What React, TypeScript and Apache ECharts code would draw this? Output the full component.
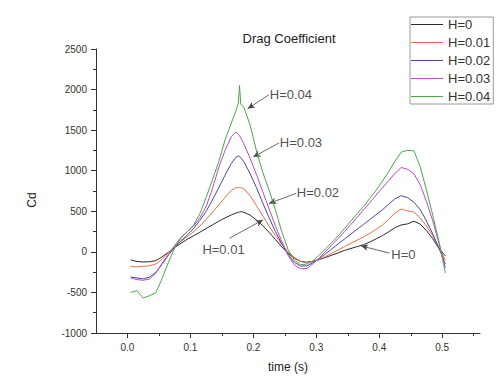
import React, { useEffect, useRef } from "react";
import * as echarts from "echarts";

const time = [0.005, 0.015, 0.025, 0.035, 0.045, 0.055, 0.065, 0.075, 0.085, 0.095, 0.105, 0.115, 0.125, 0.135, 0.145, 0.155, 0.165, 0.172, 0.176, 0.178, 0.18, 0.185, 0.195, 0.205, 0.215, 0.225, 0.235, 0.245, 0.255, 0.265, 0.275, 0.285, 0.295, 0.305, 0.315, 0.325, 0.335, 0.345, 0.355, 0.365, 0.375, 0.385, 0.395, 0.405, 0.415, 0.425, 0.435, 0.445, 0.455, 0.465, 0.475, 0.485, 0.495, 0.505];

const h0 = [-100, -118, -125, -122, -108, -62, -5, 55, 105, 155, 198, 242, 288, 332, 378, 418, 455, 478, 488, 492, 496, 488, 452, 392, 322, 240, 152, 62, -18, -78, -118, -128, -115, -95, -68, -40, -12, 18, 42, 65, 88, 122, 160, 200, 248, 298, 332, 345, 378, 342, 262, 160, 40, -50];
const h001 = [-180, -186, -178, -172, -150, -92, -12, 68, 128, 188, 248, 318, 400, 488, 578, 672, 760, 792, 788, 796, 790, 778, 690, 568, 440, 318, 200, 92, 2, -68, -118, -135, -122, -92, -55, -15, 25, 65, 105, 145, 185, 228, 278, 330, 400, 478, 528, 505, 490, 420, 318, 198, 50, -100];
const h002 = [-310, -322, -332, -312, -252, -152, -42, 58, 138, 208, 288, 388, 500, 640, 790, 945, 1090, 1165, 1182, 1178, 1160, 1110, 960, 790, 600, 420, 250, 100, -30, -128, -175, -172, -132, -82, -22, 40, 100, 160, 220, 280, 338, 398, 458, 518, 588, 655, 692, 668, 612, 520, 380, 220, 40, -150];
const h003 = [-322, -342, -350, -335, -262, -142, -32, 78, 178, 248, 318, 420, 560, 780, 1040, 1250, 1420, 1478, 1452, 1430, 1405, 1330, 1150, 950, 740, 530, 320, 130, -40, -160, -210, -205, -145, -72, 8, 88, 168, 250, 338, 428, 518, 608, 700, 790, 878, 968, 1040, 1018, 962, 830, 620, 380, 100, -200];
const h004 = [-500, -478, -568, -540, -505, -330, -130, 50, 170, 250, 330, 470, 670, 890, 1110, 1380, 1590, 1730, 1830, 2050, 1820, 1780, 1560, 1240, 980, 760, 520, 250, 30, -100, -158, -150, -108, -40, 40, 120, 200, 290, 380, 470, 560, 660, 760, 870, 990, 1120, 1230, 1252, 1245, 1050, 760, 450, 120, -260];

const seriesNames = ["H=0", "H=0.01", "H=0.02", "H=0.03", "H=0.04"];
const seriesValues = [h0, h001, h002, h003, h004];
const seriesColors = ["#2a2a2a", "#f06a45", "#4848a8", "#b84ac8", "#4aa84a"];

const xMajorTicks = [0, 0.1, 0.2, 0.3, 0.4, 0.5];
const xMinorTicks = [0.05, 0.15, 0.25, 0.35, 0.45, 0.55];

const annoText = ["H=0.04", "H=0.03", "H=0.02", "H=0.01", "H=0"];
const annoTextAt = [[0.226, 1941], [0.242, 1343], [0.269, 728], [0.119, 25], [0.419, -37]];
const annoFrom = [[0.225, 1937], [0.241, 1343], [0.268, 721], [0.162, 168], [0.416, -16]];
const annoTo = [[0.191, 1765], [0.2, 1171], [0.225, 597], [0.215, 393], [0.371, 74]];

const FONT = "'Liberation Sans', Arial, sans-serif";

export default function App() {
  const ref = useRef<HTMLDivElement>(null);
  useEffect(() => {
    if (!ref.current) return;
    const chart = echarts.init(ref.current, null, { renderer: "svg" });
    const lineSeries = seriesNames.map((name, i) => ({
      name,
      type: "line",
      data: time.map((t, j) => [t, seriesValues[i][j]]),
      symbol: "none",
      showSymbol: false,
      lineStyle: { color: seriesColors[i], width: 1 },
      itemStyle: { color: seriesColors[i] },
      emphasis: { disabled: true },
      z: 2 + i,
    }));
    chart.setOption({
      animation: false,
      backgroundColor: "#ffffff",
      textStyle: { fontFamily: FONT },
      title: {
        text: "Drag Coefficient",
        left: 284,
        top: 27,
        textAlign: "center",
        textStyle: { fontSize: 13, fontWeight: "normal", color: "#222", fontFamily: FONT },
      },
      legend: {
        data: seriesNames,
        orient: "vertical",
        left: 410,
        top: 17,
        padding: [1, 3, 1, 1],
        itemGap: 5,
        itemWidth: 32,
        itemHeight: 1,
        icon: "rect",
        borderColor: "#999",
        borderWidth: 1,
        textStyle: { fontSize: 13, color: "#333", fontFamily: FONT, lineHeight: 13 },
        selectedMode: false,
      },
      grid: { left: 96, top: 49, width: 384, height: 284, containLabel: false, outerBoundsMode: "none" },
      xAxis: [
        {
          type: "value",
          min: -0.05,
          max: 0.56,
          name: "time (s)",
          nameLocation: "middle",
          nameGap: 28,
          nameTextStyle: { fontSize: 12, color: "#222", fontFamily: FONT },
          axisLine: { show: true, onZero: false, lineStyle: { color: "#333", width: 1 } },
          axisTick: { show: true, length: 5, customValues: xMajorTicks, lineStyle: { color: "#333" } },
          axisLabel: {
            customValues: xMajorTicks,
            fontSize: 10,
            color: "#333",
            margin: 9,
            formatter: (v: number) => v.toFixed(1),
          },
          splitLine: { show: false },
        },
        {
          type: "value",
          min: -0.05,
          max: 0.56,
          position: "bottom",
          axisLine: { show: false, onZero: false },
          axisTick: { show: true, length: 3, customValues: xMinorTicks, lineStyle: { color: "#333" } },
          axisLabel: { show: false },
          splitLine: { show: false },
        },
      ],
      yAxis: {
        type: "value",
        min: -1000,
        max: 2500,
        interval: 500,
        name: "Cd",
        nameLocation: "middle",
        nameGap: 58,
        nameTextStyle: { fontSize: 12, color: "#222", fontFamily: FONT, padding: [0, 18, 0, 0] },
        axisLine: { show: true, onZero: false, lineStyle: { color: "#333", width: 1 } },
        axisTick: { show: true, length: 5, lineStyle: { color: "#333" } },
        minorTick: { show: true, splitNumber: 2, length: 3, lineStyle: { color: "#333" } },
        axisLabel: { fontSize: 10, color: "#333", margin: 9, formatter: (v: number) => String(v) },
        splitLine: { show: false },
      },
      series: [
        ...lineSeries,
        {
          name: "annotations",
          type: "scatter",
          symbolSize: 0,
          silent: true,
          data: annoTextAt.map((p, i) => ({ value: p, name: annoText[i] })),
          label: {
            show: true,
            position: "right",
            distance: 0,
            formatter: (p: any) => p.name,
            fontSize: 13,
            color: "#222",
            fontFamily: FONT,
          },
          markLine: {
            silent: true,
            symbol: ["none", "arrow"],
            symbolSize: [5, 7],
            label: { show: false },
            lineStyle: { color: "#444", width: 0.8, type: "solid" },
            emphasis: { disabled: true },
            data: annoFrom.map((f, i) => [{ coord: f }, { coord: annoTo[i] }]),
          },
          z: 10,
        },
      ],
    });
    return () => chart.dispose();
  }, []);
  return (
    <div
      ref={ref}
      style={{ position: "fixed", left: 0, top: 0, width: 502, height: 382, background: "#fff" }}
    />
  );
}
